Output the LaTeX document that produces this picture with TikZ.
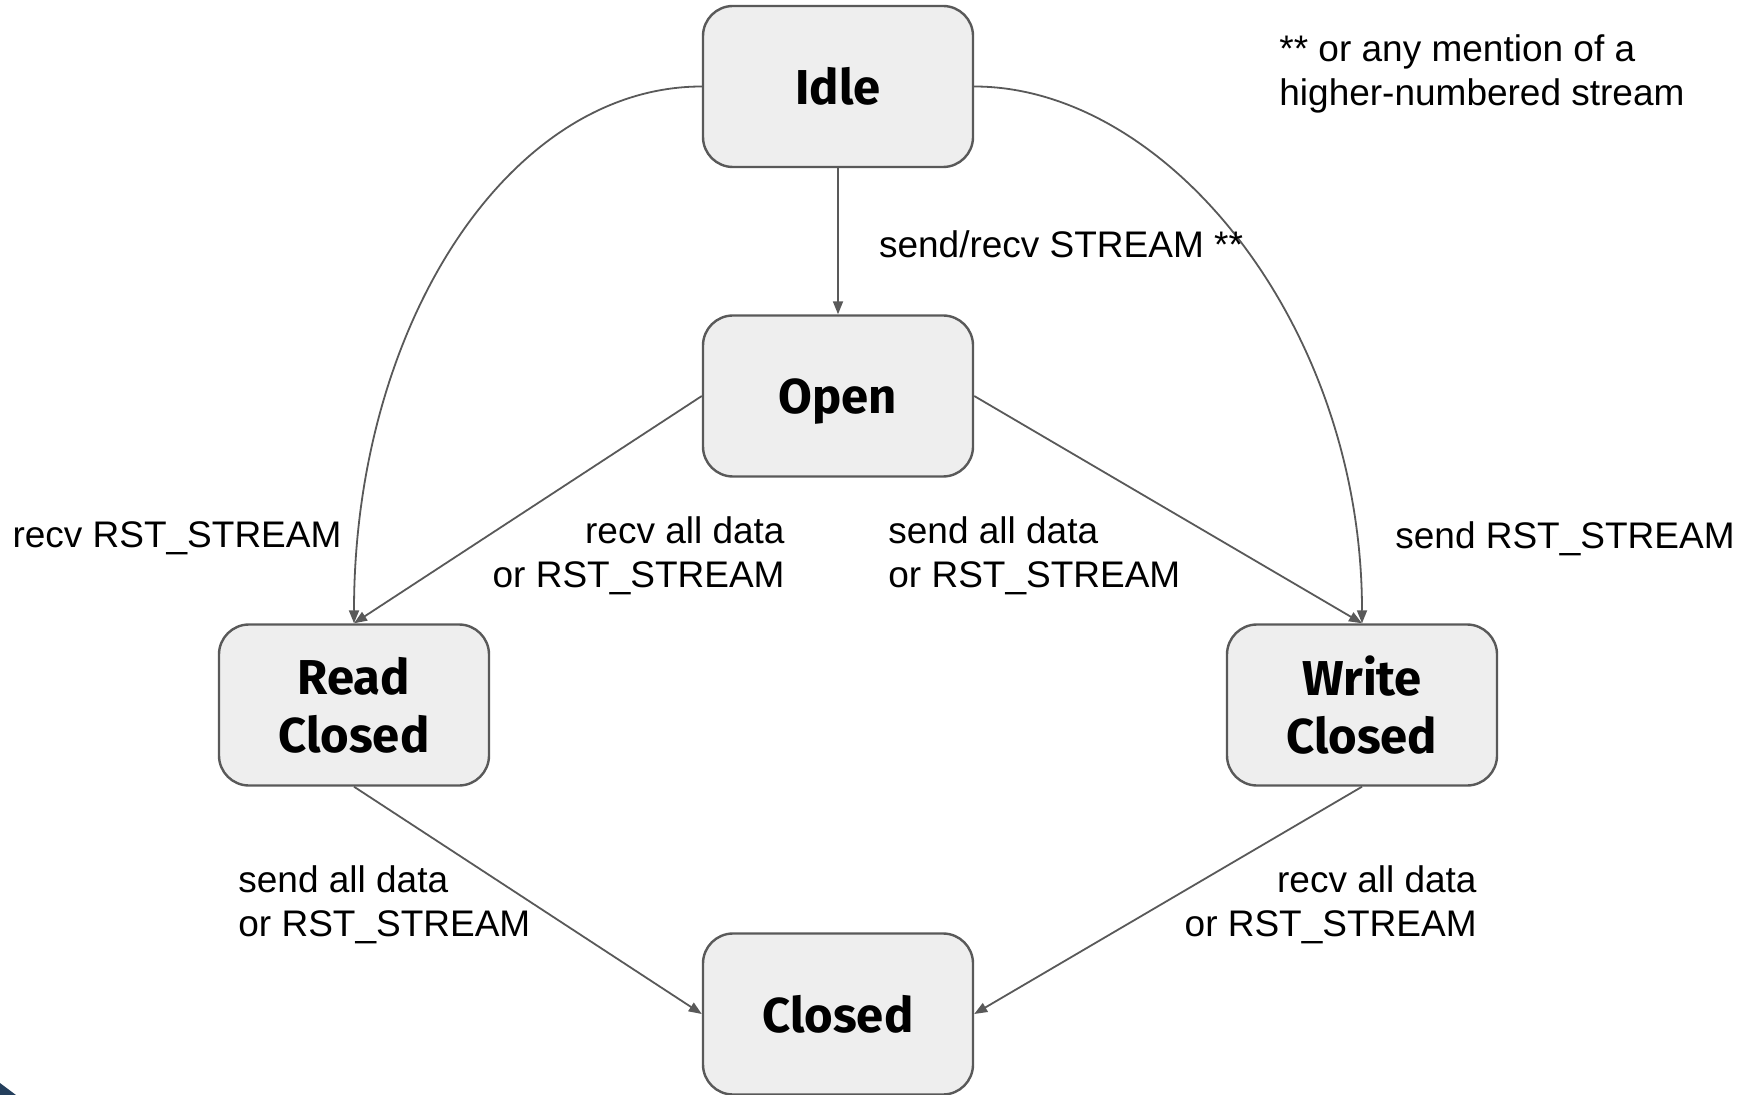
\documentclass[tikz,border=0pt]{standalone}
\usepackage{fontspec}
\setmainfont{Liberation Sans}
\newfontfamily\boxfont{Fira Sans}
\usetikzlibrary{arrows.meta}
\definecolor{boxfill}{HTML}{EEEEEE}
\definecolor{edge}{HTML}{595959}
\definecolor{cornerblue}{HTML}{243F5C}
\tikzset{
  state/.style={draw=edge, line width=1.2pt, fill=boxfill, rounded corners=15pt,
    minimum width=135pt, minimum height=80.5pt, align=center, inner sep=0pt,
    font=\boxfont\bfseries\fontsize{24.5}{29}\selectfont},
  conn/.style={draw=edge, line width=0.9pt, -{Triangle[length=6.5pt,width=5pt]}},
  lbl/.style={inner sep=0pt, font=\fontsize{18.5}{22}\selectfont}
}
\begin{document}
\begin{tikzpicture}[x=0.5pt,y=-0.5pt]
\useasboundingbox (0,0) rectangle (1754,1095);
\fill[cornerblue] (0,1083) -- (16,1095) -- (0,1095) -- cycle;
\node[state] (idle) at (838,86.5) {Idle};
\node[state, text depth=0pt] (open) at (838,396) {Open};
\node[state] (rc) at (354,705) {Read\\Closed};
\node[state] (wc) at (1362,705) {Write\\Closed};
\node[state] (closed) at (838,1014) {Closed};

\draw[conn] (idle.south) -- (open.north);
\draw[conn] (idle.west) .. controls +(-193,0) and +(0,-298) .. (rc.north);
\draw[conn] (idle.east) .. controls +(193,0) and +(0,-298) .. (wc.north);
\draw[conn] (open.west) -- (rc.north);
\draw[conn] (open.east) -- (wc.north);
\draw[conn] (rc.south) -- (closed.west);
\draw[conn] (wc.south) -- (closed.east);

\node[lbl] (l1) at (1061,244) {send/recv STREAM **};
\node[lbl] (l2) at (177,538.5) {recv RST\_STREAM};
\node[lbl, anchor=east, align=right] (l3) at (785,555.5) {recv all data\\or RST\_STREAM};
\node[lbl, anchor=west, align=left] (l4) at (888,555.5) {send all data\\or RST\_STREAM};
\node[lbl] (l5) at (1565,538.5) {send RST\_STREAM};
\node[lbl, anchor=west, align=left] (l6) at (238,904.5) {send all data\\or RST\_STREAM};
\node[lbl, anchor=east, align=right] (l7) at (1477,904.5) {recv all data\\or RST\_STREAM};
\node[lbl, anchor=west, align=left] (note) at (1279,73.5) {** or any mention of a\\higher-numbered stream};
\end{tikzpicture}
\end{document}
